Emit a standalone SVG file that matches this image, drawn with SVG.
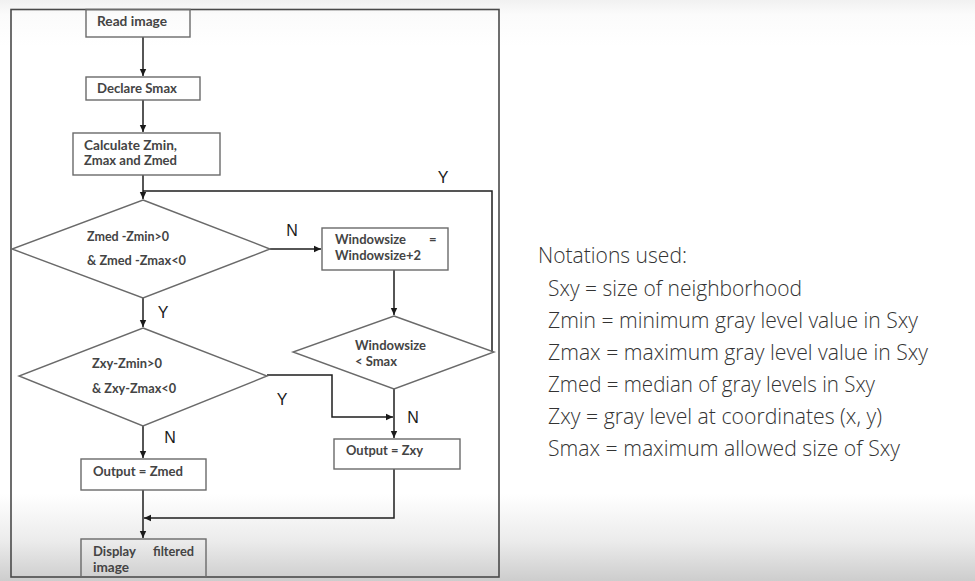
<svg xmlns="http://www.w3.org/2000/svg" width="975" height="581" viewBox="0 0 975 581">
<defs>
<linearGradient id="bg" x1="0" y1="0" x2="0" y2="1">
<stop offset="0" stop-color="#f1f1f1"/>
<stop offset="0.025" stop-color="#fbfbfb"/>
<stop offset="0.08" stop-color="#ffffff"/>
<stop offset="0.85" stop-color="#ffffff"/>
<stop offset="0.93" stop-color="#ececec"/>
<stop offset="1" stop-color="#cdcdcd"/>
</linearGradient>
<marker id="ah" markerWidth="8" markerHeight="8" refX="7" refY="4" orient="auto" markerUnits="userSpaceOnUse">
<path d="M0,0.8 L7,4 L0,7.2 Z" fill="#1a1a1a"/>
</marker>
<style>
.frame{fill:none;stroke:#4a4a4a;stroke-width:1.6}
.node{fill:none;stroke:#6a6a6a;stroke-width:1.4}
.conn{fill:none;stroke:#1e1e1e;stroke-width:1.5}
.arr{marker-end:url(#ah)}
.t{font-family:Lato,"Liberation Sans",sans-serif;font-weight:bold;font-size:13px;fill:#444444}
.lbl{font-family:"Liberation Sans",Arial,sans-serif;font-size:16px;fill:#1a1a1a;text-anchor:middle}
.nt{font-family:"Open Sans","Noto Sans",sans-serif;font-weight:300;font-size:22px;fill:#333333}
</style>
</defs>
<rect x="0" y="0" width="975" height="581" fill="url(#bg)"/>
<rect class="frame" x="11" y="9.5" width="488" height="567.5"/>

<g id="connectors">
<path class="conn arr" d="M143,37 V76"/>
<path class="conn arr" d="M143,100 V132"/>
<path class="conn arr" d="M143,175 V199"/>
<path class="conn" d="M492,352 V191 H143"/>
<path class="conn arr" d="M270,249 H321"/>
<path class="conn arr" d="M394,270 V315"/>
<path class="conn arr" d="M143,298 V327"/>
<path class="conn arr" d="M267,375 H332 V417 H393"/>
<path class="conn arr" d="M394,389 V438"/>
<path class="conn arr" d="M143,426 V458"/>
<path class="conn arr" d="M394,469 V518 H144"/>
<path class="conn arr" d="M143,490 V538"/>
</g>

<g id="labels">
<text class="lbl" x="292" y="236">N</text>
<text class="lbl" x="443" y="183">Y</text>
<text class="lbl" x="163" y="318">Y</text>
<text class="lbl" x="282" y="405">Y</text>
<text class="lbl" x="413" y="423">N</text>
<text class="lbl" x="170" y="443">N</text>
</g>

<g id="read-image">
<rect class="node" x="86" y="9.5" width="104" height="27.5"/>
<text class="t" x="97" y="26" textLength="70" lengthAdjust="spacingAndGlyphs">Read image</text>
</g>
<g id="declare-smax">
<rect class="node" x="86" y="77" width="114" height="23"/>
<text class="t" x="97" y="93" textLength="80" lengthAdjust="spacingAndGlyphs">Declare Smax</text>
</g>
<g id="calculate">
<rect class="node" x="73" y="133" width="147" height="42"/>
<text class="t" x="84" y="150" textLength="93" lengthAdjust="spacingAndGlyphs">Calculate Zmin,</text>
<text class="t" x="84" y="165" textLength="93" lengthAdjust="spacingAndGlyphs">Zmax and Zmed</text>
</g>
<g id="decision-zmed">
<polygon class="node" points="143,200 270,249 143,298 12,249"/>
<text class="t" x="87" y="241" textLength="82" lengthAdjust="spacingAndGlyphs">Zmed -Zmin&gt;0</text>
<text class="t" x="87" y="265" textLength="99" lengthAdjust="spacingAndGlyphs">&amp; Zmed -Zmax&lt;0</text>
</g>
<g id="windowsize-inc">
<rect class="node" x="322" y="228" width="126" height="42"/>
<text class="t" x="335" y="244" textLength="71" lengthAdjust="spacingAndGlyphs">Windowsize</text>
<text class="t" x="429" y="244">=</text>
<text class="t" x="335" y="260" textLength="86" lengthAdjust="spacingAndGlyphs">Windowsize+2</text>
</g>
<g id="decision-window">
<polygon class="node" points="394,316 494,352 394,389 293,352"/>
<text class="t" x="355" y="350" textLength="71" lengthAdjust="spacingAndGlyphs">Windowsize</text>
<text class="t" x="355" y="366" textLength="42" lengthAdjust="spacingAndGlyphs">&lt; Smax</text>
</g>
<g id="decision-zxy">
<polygon class="node" points="143,328 267,376 143,426 19,376"/>
<text class="t" x="92" y="368" textLength="70" lengthAdjust="spacingAndGlyphs">Zxy-Zmin&gt;0</text>
<text class="t" x="92" y="393" textLength="84" lengthAdjust="spacingAndGlyphs">&amp; Zxy-Zmax&lt;0</text>
</g>
<g id="output-zmed">
<rect class="node" x="81" y="459" width="125" height="31"/>
<text class="t" x="93" y="476" textLength="90" lengthAdjust="spacingAndGlyphs">Output = Zmed</text>
</g>
<g id="output-zxy">
<rect class="node" x="334" y="439" width="126" height="30"/>
<text class="t" x="346" y="455" textLength="77" lengthAdjust="spacingAndGlyphs">Output = Zxy</text>
</g>
<g id="display">
<rect class="node" x="81" y="539" width="125" height="38"/>
<text class="t" x="93" y="556" textLength="43" lengthAdjust="spacingAndGlyphs">Display</text>
<text class="t" x="153" y="556" textLength="41" lengthAdjust="spacingAndGlyphs">filtered</text>
<text class="t" x="93" y="572" textLength="36" lengthAdjust="spacingAndGlyphs">image</text>
</g>

<g id="notations">
<text class="nt" x="538" y="263" textLength="149" lengthAdjust="spacingAndGlyphs">Notations used:</text>
<text class="nt" x="548" y="296" textLength="254" lengthAdjust="spacingAndGlyphs">Sxy = size of neighborhood</text>
<text class="nt" x="548" y="328" textLength="370" lengthAdjust="spacingAndGlyphs">Zmin = minimum gray level value in Sxy</text>
<text class="nt" x="548" y="360" textLength="380" lengthAdjust="spacingAndGlyphs">Zmax = maximum gray level value in Sxy</text>
<text class="nt" x="548" y="392" textLength="327" lengthAdjust="spacingAndGlyphs">Zmed = median of gray levels in Sxy</text>
<text class="nt" x="548" y="424" textLength="334" lengthAdjust="spacingAndGlyphs">Zxy = gray level at coordinates (x, y)</text>
<text class="nt" x="548" y="456" textLength="352" lengthAdjust="spacingAndGlyphs">Smax = maximum allowed size of Sxy</text>
</g>
</svg>
